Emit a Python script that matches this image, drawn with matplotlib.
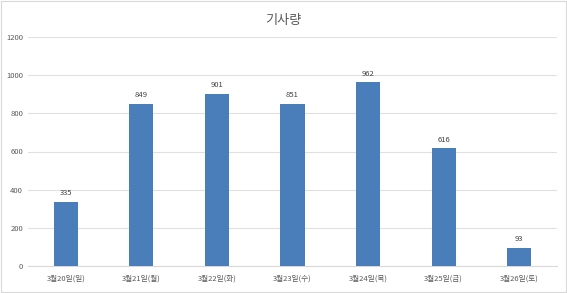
import matplotlib.pyplot as plt

plt.rcParams['font.family'] = ['Noto Sans CJK KR', 'DejaVu Sans']

days = ["3월20일(일)", "3월21일(월)", "3월22일(화)", "3월23일(수)",
        "3월24일(목)", "3월25일(금)", "3월26일(토)"]
counts = [335, 849, 901, 851, 962, 616, 93]
yticks = [0, 200, 400, 600, 800, 1000, 1200]

fig = plt.figure(figsize=(5.67, 2.93), dpi=100)
ax = fig.add_axes([28 / 567, 27 / 293, 529 / 567, 229 / 293])

x = range(len(days))
bars = ax.bar(x, counts, width=0.32, color="#4A7EBB", zorder=3)
for b, v in zip(bars, counts):
    ax.text(b.get_x() + b.get_width() / 2, v + 25, str(v),
            ha="center", va="bottom", fontsize=5.5, color="#404040")

ax.set_xlim(-0.5, len(days) - 0.5)
ax.set_ylim(0, 1200)
ax.set_yticks(yticks)
ax.set_xticks(list(x))
ax.set_xticklabels(days)
ax.tick_params(axis="both", length=0, labelsize=5.5, colors="#595959")
ax.tick_params(axis="x", pad=6)
ax.grid(axis="y", color="#E0E0E0", linewidth=0.8, zorder=0)
for s in ["top", "right", "left"]:
    ax.spines[s].set_visible(False)
ax.spines["bottom"].set_color("#D9D9D9")

fig.text(0.5, 0.93, "기사량", ha="center", va="center", fontsize=9.5, color="#595959")

border = plt.Rectangle((0.002, 0.003), 0.996, 0.994, transform=fig.transFigure,
                       fill=False, edgecolor="#D9D9D9", linewidth=0.8)
fig.patches.append(border)

fig.savefig("out.png", dpi=100)
